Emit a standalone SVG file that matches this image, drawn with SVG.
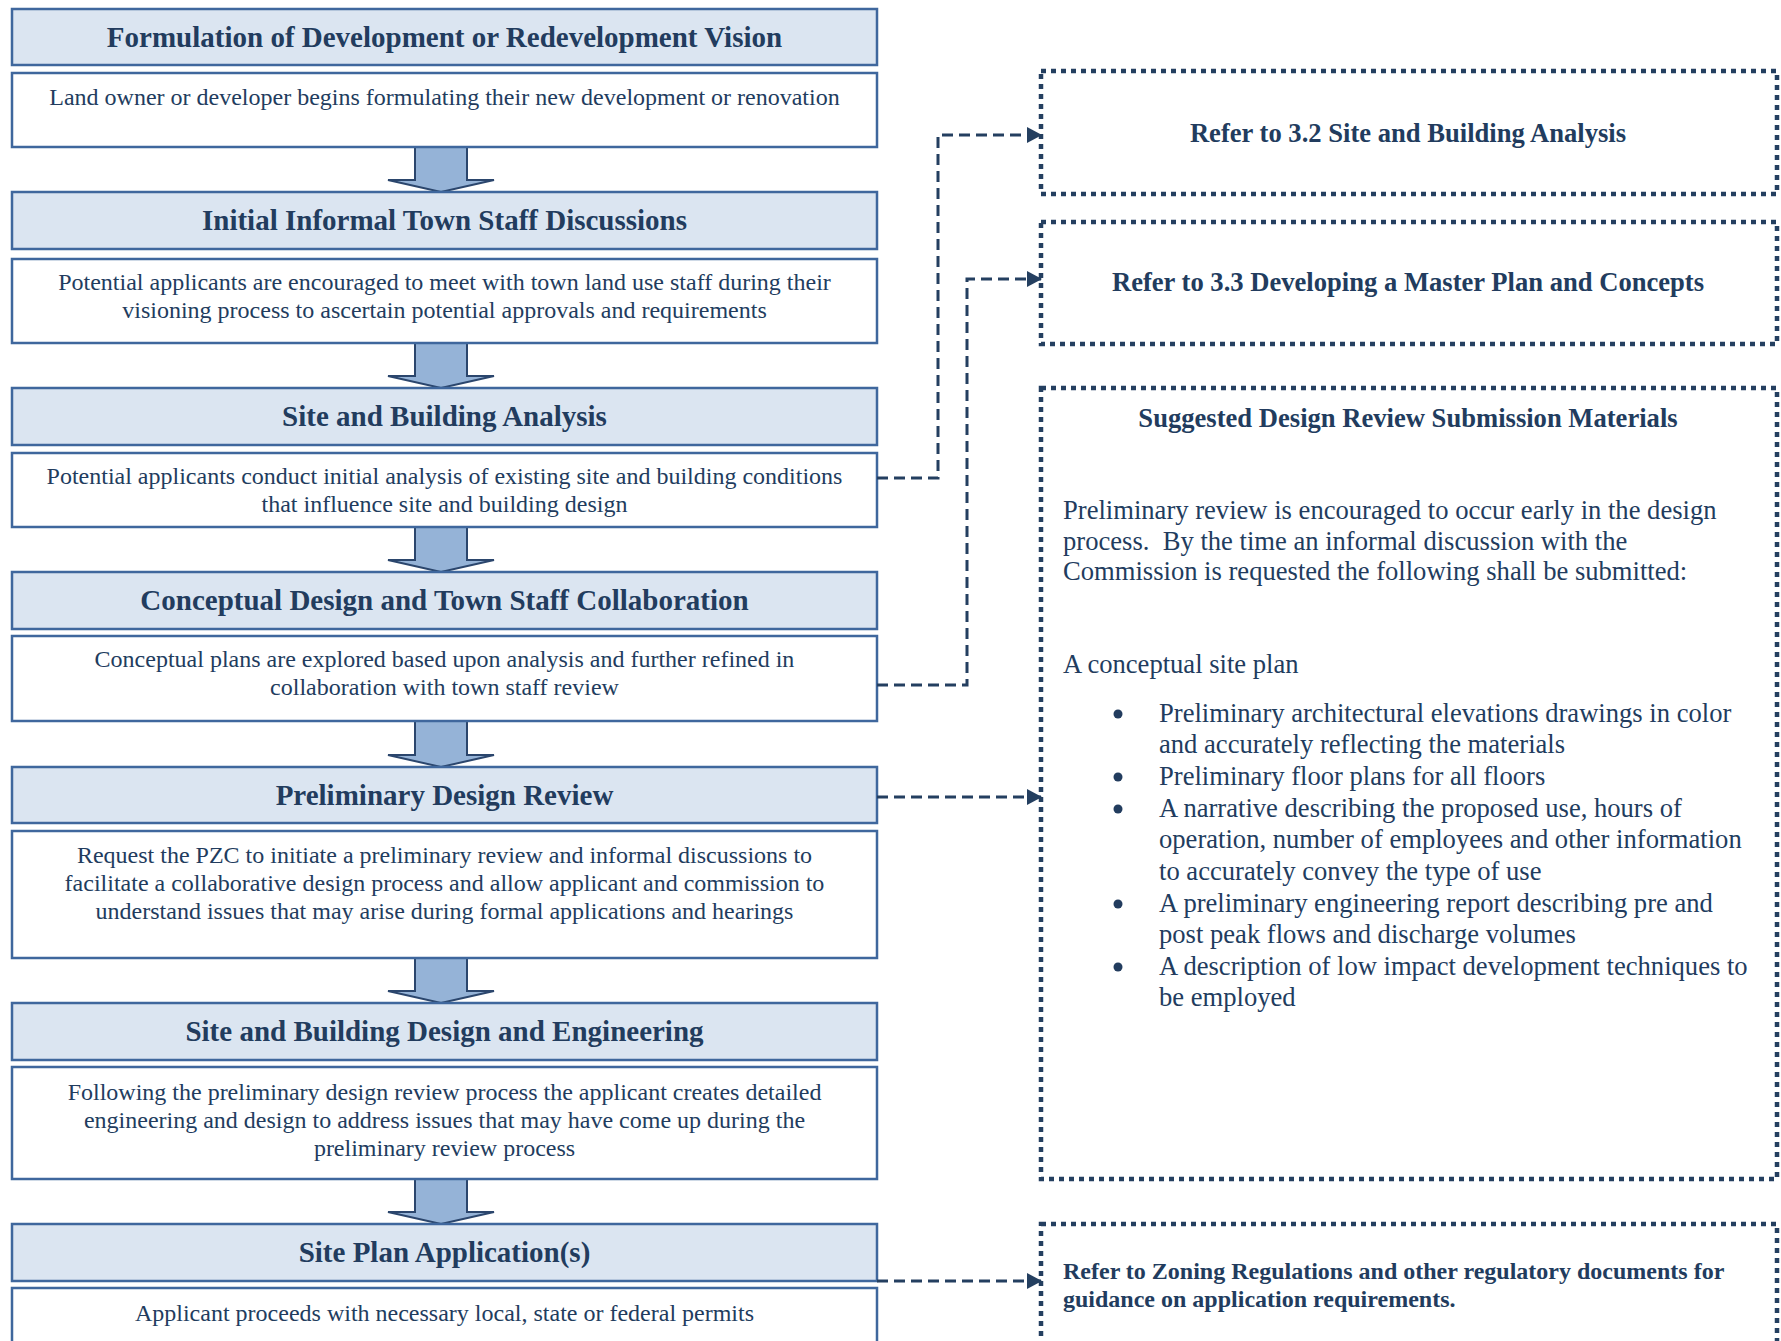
<svg xmlns="http://www.w3.org/2000/svg" width="1781" height="1341" viewBox="0 0 1781 1341">
<defs>
<style>
.hdr{fill:#dbe5f1;stroke:#3f679d;stroke-width:2.5}
.bdy{fill:#ffffff;stroke:#3f679d;stroke-width:2.5}
.arr{fill:#95b3d7;stroke:#2b466d;stroke-width:2}
.ht{font-family:"Liberation Serif","Times New Roman",serif;font-weight:bold;font-size:29px;fill:#223c5e;text-anchor:middle}
.bt{font-family:"Liberation Serif","Times New Roman",serif;font-size:24px;fill:#223c5e;text-anchor:middle}
.dot{fill:none;stroke:#243f60;stroke-width:4.5;stroke-dasharray:5 5}
.rt{font-family:"Liberation Serif","Times New Roman",serif;font-weight:bold;font-size:26.6px;fill:#223c5e;text-anchor:middle}
.rp{font-family:"Liberation Serif","Times New Roman",serif;font-size:26.6px;fill:#223c5e}
.rb{font-family:"Liberation Serif","Times New Roman",serif;font-weight:bold;font-size:24px;fill:#223c5e}
.con{fill:none;stroke:#243f60;stroke-width:3;stroke-dasharray:11 6}
.bul{fill:#223c5e}
</style>
<marker id="ah" markerUnits="userSpaceOnUse" markerWidth="15" markerHeight="16" refX="14" refY="8" orient="auto">
<path d="M0,0 L15,8 L0,16 z" fill="#243f60"/>
</marker>
</defs>

<g id="flow-arrows">
<polygon class="arr" points="415,147 467,147 467,180 494,180 441,192 388,180 415,180"/>
<polygon class="arr" points="415,343 467,343 467,376 494,376 441,388 388,376 415,376"/>
<polygon class="arr" points="415,527 467,527 467,560 494,560 441,572 388,560 415,560"/>
<polygon class="arr" points="415,721 467,721 467,755 494,755 441,767 388,755 415,755"/>
<polygon class="arr" points="415,958 467,958 467,991 494,991 441,1003 388,991 415,991"/>
<polygon class="arr" points="415,1179 467,1179 467,1212 494,1212 441,1224 388,1212 415,1212"/>
</g>

<g id="step1">
<rect class="hdr" x="12" y="9" width="865" height="56"/>
<text class="ht" x="444.5" y="46.5">Formulation of Development or Redevelopment Vision</text>
<rect class="bdy" x="12" y="73" width="865" height="74"/>
<text class="bt" x="444.5" y="105">Land owner or developer begins formulating their new development or renovation</text>
</g>

<g id="step2">
<rect class="hdr" x="12" y="192" width="865" height="57"/>
<text class="ht" x="444.5" y="230">Initial Informal Town Staff Discussions</text>
<rect class="bdy" x="12" y="259" width="865" height="84"/>
<text class="bt" x="444.5" y="290">Potential applicants are encouraged to meet with town land use staff during their</text>
<text class="bt" x="444.5" y="318">visioning process to ascertain potential approvals and requirements</text>
</g>

<g id="step3">
<rect class="hdr" x="12" y="388" width="865" height="57"/>
<text class="ht" x="444.5" y="426">Site and Building Analysis</text>
<rect class="bdy" x="12" y="453" width="865" height="74"/>
<text class="bt" x="444.5" y="484">Potential applicants conduct initial analysis of existing site and building conditions</text>
<text class="bt" x="444.5" y="512">that influence site and building design</text>
</g>

<g id="step4">
<rect class="hdr" x="12" y="572" width="865" height="57"/>
<text class="ht" x="444.5" y="610">Conceptual Design and Town Staff Collaboration</text>
<rect class="bdy" x="12" y="636" width="865" height="85"/>
<text class="bt" x="444.5" y="667">Conceptual plans are explored based upon analysis and further refined in</text>
<text class="bt" x="444.5" y="695">collaboration with town staff review</text>
</g>

<g id="step5">
<rect class="hdr" x="12" y="767" width="865" height="56"/>
<text class="ht" x="444.5" y="804.5">Preliminary Design Review</text>
<rect class="bdy" x="12" y="831" width="865" height="127"/>
<text class="bt" x="444.5" y="863">Request the PZC to initiate a preliminary review and informal discussions to</text>
<text class="bt" x="444.5" y="891">facilitate a collaborative design process and allow applicant and commission to</text>
<text class="bt" x="444.5" y="919">understand issues that may arise during formal applications and hearings</text>
</g>

<g id="step6">
<rect class="hdr" x="12" y="1003" width="865" height="57"/>
<text class="ht" x="444.5" y="1041">Site and Building Design and Engineering</text>
<rect class="bdy" x="12" y="1067" width="865" height="112"/>
<text class="bt" x="444.5" y="1100">Following the preliminary design review process the applicant creates detailed</text>
<text class="bt" x="444.5" y="1128">engineering and design to address issues that may have come up during the</text>
<text class="bt" x="444.5" y="1156">preliminary review process</text>
</g>

<g id="step7">
<rect class="hdr" x="12" y="1224" width="865" height="57"/>
<text class="ht" x="444.5" y="1262">Site Plan Application(s)</text>
<rect class="bdy" x="12" y="1288" width="865" height="80"/>
<text class="bt" x="444.5" y="1321">Applicant proceeds with necessary local, state or federal permits</text>
</g>

<g id="ref-site-analysis">
<rect class="dot" x="1041" y="71" width="736" height="123"/>
<text class="rt" x="1408" y="142">Refer to 3.2 Site and Building Analysis</text>
</g>

<g id="ref-master-plan">
<rect class="dot" x="1041" y="222" width="736" height="122"/>
<text class="rt" x="1408" y="291">Refer to 3.3 Developing a Master Plan and Concepts</text>
</g>

<g id="submission-materials">
<rect class="dot" x="1041" y="388" width="736" height="791"/>
<text class="rt" x="1408" y="427">Suggested Design Review Submission Materials</text>
<text class="rp" x="1063" y="519">Preliminary review is encouraged to occur early in the design</text>
<text class="rp" x="1063" y="550">process.&#160; By the time an informal discussion with the</text>
<text class="rp" x="1063" y="580">Commission is requested the following shall be submitted:</text>
<text class="rp" x="1063" y="673">A conceptual site plan</text>
<circle class="bul" cx="1118" cy="714" r="4.5"/>
<circle class="bul" cx="1118" cy="777" r="4.5"/>
<circle class="bul" cx="1118" cy="809" r="4.5"/>
<circle class="bul" cx="1118" cy="904" r="4.5"/>
<circle class="bul" cx="1118" cy="967" r="4.5"/>
<text class="rp" x="1159" y="722">Preliminary architectural elevations drawings in color</text>
<text class="rp" x="1159" y="753">and accurately reflecting the materials</text>
<text class="rp" x="1159" y="785">Preliminary floor plans for all floors</text>
<text class="rp" x="1159" y="817">A narrative describing the proposed use, hours of</text>
<text class="rp" x="1159" y="848">operation, number of employees and other information</text>
<text class="rp" x="1159" y="880">to accurately convey the type of use</text>
<text class="rp" x="1159" y="912">A preliminary engineering report describing pre and</text>
<text class="rp" x="1159" y="943">post peak flows and discharge volumes</text>
<text class="rp" x="1159" y="975">A description of low impact development techniques to</text>
<text class="rp" x="1159" y="1006">be employed</text>
</g>

<g id="ref-zoning">
<rect class="dot" x="1041" y="1224" width="736" height="180"/>
<text class="rb" x="1063" y="1279">Refer to Zoning Regulations and other regulatory documents for</text>
<text class="rb" x="1063" y="1307">guidance on application requirements.</text>
</g>

<g id="connectors">
<polyline class="con" points="877,478 938,478 938,135 1041,135" marker-end="url(#ah)"/>
<polyline class="con" points="877,685 967,685 967,279 1041,279" marker-end="url(#ah)"/>
<polyline class="con" points="877,797 1041,797" marker-end="url(#ah)"/>
<polyline class="con" points="877,1281 1041,1281" marker-end="url(#ah)"/>
</g>
</svg>
